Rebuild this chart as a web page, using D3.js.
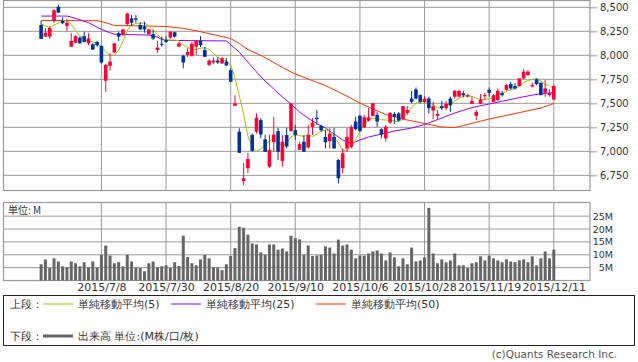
<!DOCTYPE html>
<html>
<head>
<meta charset="utf-8">
<script src="https://cdn.jsdelivr.net/npm/d3@7"></script>
<style>
  body { margin: 0; background: #fff; }
  text { font-family: "DejaVu Sans", sans-serif; }
</style>
</head>
<body>
<svg id="chart"></svg>
<script>
// trading days shown on the chart
const dates = [
  "2015/6/18","2015/6/19","2015/6/22","2015/6/23","2015/6/24","2015/6/25","2015/6/26","2015/6/29","2015/6/30",
  "2015/7/1","2015/7/2","2015/7/3","2015/7/6","2015/7/7","2015/7/8","2015/7/9","2015/7/10","2015/7/13","2015/7/14",
  "2015/7/15","2015/7/16","2015/7/17","2015/7/21","2015/7/22","2015/7/23","2015/7/24","2015/7/27","2015/7/28",
  "2015/7/29","2015/7/30","2015/7/31",
  "2015/8/3","2015/8/4","2015/8/5","2015/8/6","2015/8/7","2015/8/10","2015/8/11","2015/8/12","2015/8/13","2015/8/14",
  "2015/8/17","2015/8/18","2015/8/19","2015/8/20","2015/8/21","2015/8/24","2015/8/25","2015/8/26","2015/8/27",
  "2015/8/28","2015/8/31",
  "2015/9/1","2015/9/2","2015/9/3","2015/9/4","2015/9/7","2015/9/8","2015/9/9","2015/9/10","2015/9/11","2015/9/14",
  "2015/9/15","2015/9/16","2015/9/17","2015/9/18","2015/9/24","2015/9/25","2015/9/28","2015/9/29","2015/9/30",
  "2015/10/1","2015/10/2","2015/10/5","2015/10/6","2015/10/7","2015/10/8","2015/10/9","2015/10/13","2015/10/14",
  "2015/10/15","2015/10/16","2015/10/19","2015/10/20","2015/10/21","2015/10/22","2015/10/23","2015/10/26",
  "2015/10/27","2015/10/28","2015/10/29","2015/10/30",
  "2015/11/2","2015/11/4","2015/11/5","2015/11/6","2015/11/9","2015/11/10","2015/11/11","2015/11/12","2015/11/13",
  "2015/11/16","2015/11/17","2015/11/18","2015/11/19","2015/11/20","2015/11/24","2015/11/25","2015/11/26",
  "2015/11/27","2015/11/30",
  "2015/12/1","2015/12/2","2015/12/3","2015/12/4","2015/12/7","2015/12/8","2015/12/9","2015/12/10","2015/12/11"
];

const open = [
  8315,8195,8195,8360,8505,8360,8305,8090,8130,8185,8200,8125,8115,8140,8100,7735,7890,8030,8230,8220,
  8325,8385,8385,8315,8300,8220,8220,8055,8120,8160,8185,8240,8090,7995,8005,7995,8090,8150,8055,7900,
  7925,7945,7915,7935,7845,7475,7205,6690,6825,7170,7205,7325,7125,6840,7095,7210,6900,7170,7210,7220,
  7015,7100,7040,7255,7350,7265,7150,7105,7150,6910,6825,7030,7045,7310,7370,7250,7320,7370,7380,7230,
  7135,7300,7390,7395,7335,7400,7550,7645,7585,7515,7550,7425,7370,7470,7450,7550,7570,7570,7605,7570,
  7495,7370,7495,7575,7640,7515,7535,7605,7640,7700,7680,7680,7760,7795,7675,7750,7715,7610,7585,7540
];
const high = [
  8360,8285,8300,8480,8525,8395,8375,8230,8210,8195,8245,8230,8125,8150,8100,7910,8020,8130,8245,8275,
  8445,8420,8420,8345,8350,8275,8265,8150,8195,8200,8255,8245,8140,8005,8075,8140,8160,8200,8085,7960,
  7980,7980,7980,7970,7865,7585,7240,6880,6985,7185,7395,7345,7175,7175,7360,7245,7170,7245,7500,7275,
  7100,7170,7275,7345,7430,7275,7220,7240,7245,6920,7030,7245,7275,7360,7380,7380,7450,7500,7410,7240,
  7275,7410,7410,7410,7470,7470,7630,7665,7595,7575,7570,7515,7430,7525,7525,7570,7640,7640,7630,7595,
  7570,7430,7595,7610,7665,7595,7655,7630,7700,7725,7710,7760,7855,7845,7715,7760,7715,7745,7645,7690
];
const low = [
  8170,8190,8170,8335,8440,8325,8255,8090,8125,8120,8135,8105,8055,8090,7915,7620,7840,8020,8150,8200,
  8305,8305,8340,8265,8235,8210,8160,8025,8090,8130,8175,8185,8085,7865,7985,7985,8005,8085,7980,7890,
  7910,7910,7910,7890,7725,7470,6985,6650,6775,6995,7185,7135,6995,6825,6995,6910,6840,7030,7205,7120,
  7015,6995,7030,7170,7275,7205,7030,7030,7030,6665,6770,6995,7030,7220,7205,7240,7310,7360,7255,7135,
  7100,7285,7285,7310,7325,7380,7500,7540,7500,7500,7395,7335,7335,7430,7430,7410,7550,7560,7560,7560,
  7495,7325,7495,7535,7570,7515,7525,7570,7630,7645,7645,7675,7750,7785,7665,7690,7585,7570,7570,7535
];
const close = [
  8170,8235,8285,8470,8445,8335,8340,8150,8200,8125,8140,8175,8060,8105,7925,7900,7935,8125,8195,8270,
  8435,8340,8370,8270,8270,8270,8175,8080,8110,8140,8245,8195,8125,7925,8035,8120,8150,8105,7985,7945,
  7945,7925,7970,7895,7725,7500,6985,6720,6920,7005,7350,7175,6995,7015,7175,6995,7100,7050,7500,7170,
  7075,6995,7170,7300,7335,7220,7095,7185,7030,6720,6980,7150,7255,7230,7210,7355,7355,7500,7310,7175,
  7255,7400,7360,7320,7470,7430,7515,7550,7515,7550,7450,7470,7390,7450,7495,7480,7630,7630,7585,7585,
  7525,7410,7540,7585,7610,7585,7630,7585,7690,7655,7655,7760,7830,7830,7690,7700,7585,7655,7605,7680
];

// volume, millions
const volume = [
  6.3,8.2,4.9,8.6,7.4,5.5,5.1,7.4,6.7,5.5,7.1,5.1,7.4,5.1,10,13.6,9.7,6.7,7.1,5.5,
  10,7.4,5.1,4.9,3.6,6.7,7.4,5.1,5.5,5.9,4.9,7.1,5.6,17.4,9.1,6.7,5.9,8.2,10,8.6,
  5.1,5.1,4.0,6.3,9.5,12.6,20.9,20.5,17.8,14.4,14.0,10.9,10.0,14.0,14.0,12.0,12.4,11.3,17.4,16.4,
  16.0,10.0,13.6,9.5,9.7,10,13.3,12.8,10.5,15.9,13.6,14,12,8.6,9.7,9.7,10.5,11.3,11.7,10.5,
  7.8,10.9,9,5.5,8.6,6.3,12.8,7.4,7.8,9,28.2,10.5,6.7,8.2,7.1,7.8,10.5,5.9,5.9,4.9,
  6.7,7.1,9.4,7.8,9.7,8.6,7.8,7.1,8.2,7.4,7.1,7.8,8.2,7.1,9.4,5.9,8.6,11.3,8.6,12
];

// moving averages
const ma5 = [
  8326,8305,8290,8316,8336,8360,8365,8321,8258,8201,8167,8144,8142,8123,8086,8040,8003,7998,8055,8142,
  8263,8316,8333,8333,8336,8310,8269,8217,8177,8159,8159,8159,8152,8107,8083,8062,8062,8073,8081,8062,
  8021,7979,7958,7941,7899,7769,7576,7388,7159,7040,7003,7024,7073,7107,7128,7092,7052,7083,7152,7170,
  7165,7154,7175,7154,7180,7211,7222,7211,7159,7086,7008,7013,7052,7118,7204,7274,7326,7344,7344,7330,
  7326,7326,7313,7308,7352,7396,7453,7500,7517,7517,7508,7486,7456,7451,7477,7487,7524,7552,7574,7581,
  7571,7552,7540,7540,7545,7566,7590,7607,7621,7644,7652,7677,7717,7737,7748,7757,7734,7696,7687,7646
];
const ma25Dates = ["2015/6/18","2015/6/26","2015/6/29","2015/7/1","2015/7/3","2015/7/8","2015/7/10","2015/7/13",
  "2015/7/24","2015/7/28","2015/7/29","2015/7/31","2015/8/19","2015/8/20","2015/8/24","2015/8/26","2015/8/28",
  "2015/9/1","2015/9/3","2015/9/7","2015/9/9","2015/9/11","2015/9/15","2015/9/17","2015/9/24","2015/9/28",
  "2015/9/30","2015/10/2","2015/10/6","2015/10/8","2015/10/14","2015/10/19","2015/10/23","2015/10/28",
  "2015/11/4","2015/11/9","2015/11/13","2015/11/19","2015/11/30","2015/12/4","2015/12/9","2015/12/11"];
const ma25Values = [8409,8409,8398,8370,8340,8270,8235,8220,
  8211,8190,8165,8155,8150,8110,8034,7930,7826,
  7732,7649,7566,7493,7409,7344,7290,7243,7180,
  7118,7081,7118,7149,7180,7211,7243,7279,
  7347,7399,7456,7493,7550,7586,7604,7612];
const ma50Dates = ["2015/6/18","2015/7/7","2015/7/9","2015/7/13","2015/7/24","2015/7/30","2015/8/5","2015/8/11",
  "2015/8/20","2015/8/24","2015/8/26","2015/9/1","2015/9/7","2015/9/10","2015/9/15","2015/9/24","2015/9/30",
  "2015/10/6","2015/10/9","2015/10/15","2015/10/22","2015/10/28","2015/11/4","2015/11/9","2015/11/11",
  "2015/11/13","2015/11/19","2015/11/30","2015/12/8","2015/12/11"];
const ma50Values = [8363,8360,8340,8310,8305,8300,8281,8246,
  8175,8123,8060,7977,7873,7805,7753,7685,7597,
  7503,7441,7383,7326,7290,7253,7248,7268,
  7292,7336,7394,7451,7498];

const gridDates = ["2015/7/8","2015/7/30","2015/8/20","2015/9/10","2015/10/6","2015/10/28","2015/11/19","2015/12/11"];
const priceTicks = [6750,7000,7250,7500,7750,8000,8250,8500];
const volumeTicks = [5,10,15,20,25];

const legendItems = [
  { label: "単純移動平均(5)", color: "#99cc00" },
  { label: "単純移動平均(25)", color: "#9900ff" },
  { label: "単純移動平均(50)", color: "#ff3300" }
];

const width = 638;
const height = 362;
const svg = d3.select("#chart").attr("width", width).attr("height", height);

const upColor = "#ff0033";
const downColor = "#003399";
const gridColor = "#999";

const x = d3.scalePoint().domain(dates).range([41.1, 553.8]);
const yPrice = d3.scaleLinear().domain([6592, 8571]).range([190.5, 0.5]);
const yVol = d3.scaleLinear().domain([0, 30.3]).range([280.5, 202.5]);

const left = 3.5, right = 590;

// grid for both panels
function drawGrid(yScale, ticks, top, bottom) {
  const g = svg.append("g");
  g.selectAll("line.h")
    .data(ticks)
    .enter()
    .append("line")
    .attr("x1", left).attr("x2", right)
    .attr("y1", (d) => yScale(d)).attr("y2", (d) => yScale(d))
    .attr("stroke", gridColor).attr("stroke-width", 1);
  g.selectAll("line.v")
    .data(gridDates)
    .enter()
    .append("line")
    .attr("x1", (d) => x(d)).attr("x2", (d) => x(d))
    .attr("y1", top).attr("y2", bottom)
    .attr("stroke", gridColor).attr("stroke-width", 1);
  g.append("rect")
    .attr("x", left).attr("y", top)
    .attr("width", right - left).attr("height", bottom - top)
    .attr("fill", "none").attr("stroke", gridColor).attr("stroke-width", 1.2);
}
drawGrid(yPrice, priceTicks, 0.5, 190.5);
drawGrid(yVol, volumeTicks, 202.5, 280.5);

// price axis
const yAxis = svg.append("g")
  .attr("transform", `translate(${right},0)`)
  .call(d3.axisRight(yPrice).tickValues(priceTicks).tickFormat(d3.format(",")).tickSize(7).tickPadding(3));
yAxis.select(".domain").remove();
yAxis.selectAll("line").attr("stroke", gridColor);
yAxis.selectAll("text").attr("fill", "#333").style("font-size", "10px");

// volume axis
const vAxis = svg.append("g")
  .attr("transform", `translate(${right},0)`)
  .call(d3.axisRight(yVol).tickValues(volumeTicks).tickFormat((d) => d + "M").tickSize(0));
vAxis.select(".domain").remove();
vAxis.selectAll("text").attr("fill", "#333").style("font-size", "9.5px")
  .attr("text-anchor", "end").attr("x", 23);

// date axis
const xAxis = svg.append("g")
  .attr("transform", "translate(0,280.5)")
  .call(d3.axisBottom(x).tickValues(gridDates).tickSize(0).tickPadding(3));
xAxis.select(".domain").remove();
xAxis.selectAll("text").attr("fill", "#333").style("font-size", "11px");

svg.append("text")
  .attr("x", 8).attr("y", 214)
  .attr("fill", "#333")
  .style("font-size", "10px")
  .style("font-family", "'Noto Sans CJK JP', sans-serif")
  .text("単位: M");

// moving averages
const lineGen = d3.line().x((d) => x(d[0])).y((d) => yPrice(d[1]));
const series = [
  { data: d3.zip(ma50Dates, ma50Values), color: "#ff3300" },
  { data: d3.zip(ma25Dates, ma25Values), color: "#9900ff" },
  { data: d3.zip(dates, ma5), color: "#99cc00" }
];
svg.append("g").selectAll("path")
  .data(series)
  .enter()
  .append("path")
  .attr("d", (d) => lineGen(d.data))
  .attr("fill", "none")
  .attr("stroke", (d) => d.color)
  .attr("stroke-width", 1);

// candles
const candles = dates.map((d, i) => ({
  date: d, o: open[i], h: high[i], l: low[i], c: close[i], v: volume[i]
}));
const bodyW = 3.6;
const cg = svg.append("g").selectAll("g")
  .data(candles)
  .enter()
  .append("g");
cg.append("line")
  .attr("x1", (d) => x(d.date)).attr("x2", (d) => x(d.date))
  .attr("y1", (d) => yPrice(d.h)).attr("y2", (d) => yPrice(d.l))
  .attr("stroke", (d) => (d.c >= d.o ? upColor : downColor))
  .attr("stroke-width", 1);
cg.append("rect")
  .attr("x", (d) => x(d.date) - bodyW / 2)
  .attr("y", (d) => yPrice(Math.max(d.o, d.c)))
  .attr("width", bodyW)
  .attr("height", (d) => Math.max(1, Math.abs(yPrice(d.o) - yPrice(d.c))))
  .attr("fill", (d) => (d.c >= d.o ? upColor : downColor));

// volume bars
svg.append("g").selectAll("rect")
  .data(candles)
  .enter()
  .append("rect")
  .attr("x", (d) => x(d.date) - 1.5)
  .attr("y", (d) => yVol(d.v))
  .attr("width", 3)
  .attr("height", (d) => yVol(0) - yVol(d.v))
  .attr("fill", "#666");

// legend
const lg = svg.append("g").style("font-family", "'Noto Sans CJK JP', sans-serif").style("font-size", "11px");
lg.append("rect")
  .attr("x", 3.5).attr("y", 295.5).attr("width", 631).attr("height", 50)
  .attr("fill", "none").attr("stroke", "#222").attr("stroke-width", 1);
lg.append("text").attr("x", 10).attr("y", 308).attr("fill", "#333").text("上段：");
const legendX = [43, 171, 316];
legendItems.forEach((item, i) => {
  lg.append("line")
    .attr("x1", legendX[i]).attr("x2", legendX[i] + 30)
    .attr("y1", 304).attr("y2", 304)
    .attr("stroke", item.color).attr("stroke-width", 1);
  lg.append("text").attr("x", legendX[i] + 35).attr("y", 308).attr("fill", "#333").text(item.label);
});
lg.append("text").attr("x", 10).attr("y", 340).attr("fill", "#333").text("下段：");
lg.append("line")
  .attr("x1", 43).attr("x2", 73).attr("y1", 336).attr("y2", 336)
  .attr("stroke", "#666").attr("stroke-width", 3);
lg.append("text").attr("x", 78).attr("y", 340).attr("fill", "#333").text("出来高 単位:(M株/口/枚)");

svg.append("text")
  .attr("x", 617).attr("y", 358)
  .attr("text-anchor", "end")
  .attr("fill", "#555")
  .style("font-size", "10.5px")
  .text("(c)Quants Research Inc.");
</script>
</body>
</html>
